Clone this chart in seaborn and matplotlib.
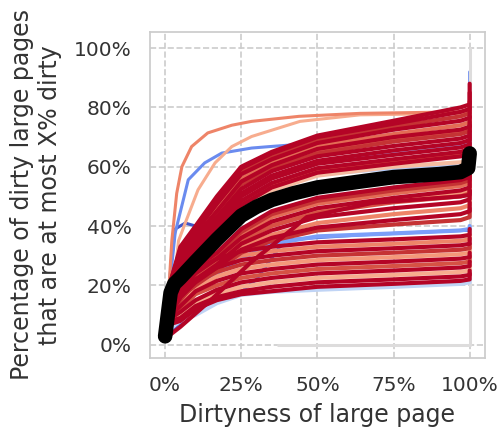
import matplotlib
matplotlib.use("Agg")
import matplotlib.pyplot as plt
from matplotlib.ticker import PercentFormatter
import pandas as pd
import seaborn as sns

# -----------------------------
# data (values in %)
# -----------------------------
# shared x knots for the bulk curves (last knot repeated: jump at 100%)
knots = [0, 1, 2, 5, 10, 17, 25, 35, 50, 75, 97, 100, 100]

# upper band, above the mean line
upper_curves = [
    [3, 10, 17, 23, 31, 38, 47, 53, 58, 61, 63.5, 64.5, 66],
    [3, 10, 17, 23.5, 31.5, 38.5, 48, 54, 59, 62, 64.2, 65.2, 67],
    [3, 11, 18, 24, 32, 39, 48.5, 54.5, 59.5, 62.5, 65, 66, 68],
    [3, 11, 18, 25, 33, 40, 50, 56, 61, 64, 66.5, 67.5, 70],
    [3, 11, 18, 25.5, 33.5, 40.5, 50.5, 56.5, 61.5, 64.8, 67.2, 68.2, 71],
    [3, 12, 19, 26, 34, 41.5, 51, 57, 62, 65.5, 68, 69, 72],
    [4, 12, 19, 27, 35, 43, 52.5, 58.5, 63.5, 67, 69.5, 70.5, 74],
    [4, 12, 20, 28, 36, 44, 54, 59.5, 64.5, 68.5, 71, 72, 75],
    [4, 13, 20, 28.5, 36, 44.5, 54.5, 60, 65.2, 69.2, 71.8, 72.8, 76],
    [4, 13, 20, 29, 36.5, 45, 55, 60.5, 66, 70, 72.5, 73.5, 77],
    [4, 13, 21, 30, 37, 46, 56, 61.5, 67, 71, 74, 75, 78],
    [4, 13, 21, 30.5, 38, 47.5, 57.5, 62.5, 68, 72.5, 75.5, 76.5, 80],
    [4, 14, 21, 31, 38.5, 48, 58.5, 63.5, 69, 73.5, 77, 78, 82],
    [4, 14, 22, 32, 39, 49, 59.5, 64.5, 70, 74.5, 78.5, 79.5, 85],
    [4, 14, 22, 33, 40, 50, 60, 65, 70.5, 75.5, 80, 81, 88],
]
upper_hues = [1.0, 0.9, 1.0, 1.0, 0.3, 1.0, 1.0, 0.95, 0.85, 1.0, 0.85, 1.0, 0.95, 1.0, 1.0]

# middle band, just below the mean line
middle_curves = [
    [3, 9, 15, 20, 26, 31, 39, 45, 49.5, 53, 55.5, 56.5, 60],
    [3, 9, 14, 19.5, 25.5, 30.5, 38, 44, 48.5, 52, 54.5, 55.5, 59],
    [3, 9, 14, 19, 25, 30, 37, 43, 47.5, 51, 53.5, 54.5, 58],
    [3, 8, 13, 18, 24, 29, 36, 41.5, 46, 49.5, 52, 53, 56],
    [3, 8, 13, 18, 23.5, 28.5, 35.5, 40.8, 45.2, 48.8, 51, 52, 55],
    [3, 8, 13, 18, 23, 28, 35, 40, 44.5, 48, 50, 51, 54],
    [3, 8, 12, 17, 22, 27, 34, 38.5, 43, 46, 48, 49, 52],
    [2, 7, 12, 17, 22, 27, 33, 37, 41, 44, 46, 47, 50],
    [2, 7, 11, 16, 21, 26, 32, 36, 39.5, 42, 44, 45, 48],
    [2, 7, 11, 16, 20, 25, 31, 35, 38.5, 40.5, 42, 43, 46],
]
middle_hues = [1.0, 0.95, 0.85, 1.0, 0.75, 0.9, 1.0, 0.8, 1.0, 0.95]

# lower band, early plateau
lower_curves = [
    [3, 8, 12, 18, 25, 29, 31.5, 33, 34.5, 35.5, 36.5, 37, 39],
    [3, 8, 12, 17, 24, 27.5, 30, 31.5, 33, 34, 35, 35.5, 37],
    [3, 7, 11, 16, 22, 26, 28.5, 30, 31.5, 32.5, 33.5, 34, 36],
    [3, 7, 11, 15, 21, 24.5, 27, 28.5, 30, 31, 32, 32.5, 34],
    [2, 7, 10, 14, 19, 23, 25.5, 27, 28.5, 29.5, 30.5, 31, 33],
    [2, 6, 10, 13, 18, 21.5, 24, 25.5, 27, 28, 29, 29.5, 31],
    [2, 6, 9, 12, 17, 20, 22.5, 24, 25.5, 26.5, 27.5, 28, 30],
    [2, 6, 9, 11, 15, 18.5, 21, 22.5, 24, 25, 26, 26.5, 28],
    [2, 5, 8, 10, 14, 17, 19.5, 21, 22.5, 23.5, 24.5, 25, 27],
    [2, 5, 8, 9, 13, 16, 18, 19.5, 21, 22, 23, 23.5, 25],
    [2, 5, 7, 8, 12, 15, 17, 18, 19.5, 20.5, 21.5, 22, 24],
]
lower_hues = [1.0, 0.8, 1.0, 0.95, 0.75, 1.0, 0.9, 1.0, 0.7, 1.0, 1.0]

# lines in the gap above the mean line / blue lines below it
gap_curves = [
    [3, 10, 16, 21, 28, 34, 46, 52, 57, 60, 61.5, 62, 63],
    [3, 10, 16, 22, 29, 36, 47, 53, 57.5, 59.5, 60.8, 61, 62],
    [2, 6, 10, 14, 19, 24, 29, 34, 36.5, 37.5, 38.5, 39, 40],
    [2, 5, 6, 8, 10, 14, 16.8, 17.8, 18.5, 19.5, 20.5, 21, 22],
]
gap_hues = [0.65, 0.35, 0.2, 0.4]

# single outliers with their own x points
orange_x = [0, 1, 2.2, 3.8, 5.5, 8.7, 14, 21.9, 28.4, 44, 64, 97, 100, 100]
orange_y = [3, 15, 35, 51, 60, 66.8, 71.4, 74, 75.3, 77, 78, 78.5, 79, 80]
salmon_x = [0, 2, 4.4, 6.6, 10.8, 16.4, 21.9, 28.4, 44.3, 64, 97, 100, 100]
salmon_y = [3, 12, 35, 41, 52.2, 61.3, 66.8, 70.2, 75.3, 77.5, 78, 78.5, 79]
blue_x = [0, 1.5, 3.3, 7.6, 13, 18.6, 28.4, 34.4, 50, 75, 97, 100, 100]
blue_y = [3, 20, 37.7, 55.6, 61.3, 64.6, 66.3, 66.8, 68, 70, 72, 73, 92]
dblue_x = [0, 1, 2, 3.3, 6.6, 10, 17, 25, 35, 50, 75, 97, 100, 100]
dblue_y = [2, 15, 28, 39, 41, 40, 48, 56, 62, 66, 69, 71, 72, 75]
bluelow_x = [0, 3, 7.6, 13, 18.6, 24, 30, 37.7, 40, 64, 97, 100, 100]
bluelow_y = [2, 5, 9, 12.5, 15, 17, 22, 33, 35.4, 37, 38.5, 38.5, 40]
redslow_x = [0, 5, 15, 28, 38.7, 46.5, 68, 97, 100, 100]
redslow_y = [2, 6, 15, 27.6, 36.4, 43, 47.8, 50, 50.5, 52]
gray_x = [37, 100, 100]
gray_y = [0, 0, 100]

# mean curve (black)
mean_x = [0, 1, 1.8, 3, 5, 10, 17, 25, 30, 35, 42, 50, 64, 75, 90, 97, 99.5, 100]
mean_y = [2.8, 11, 17.5, 20.5, 22.5, 28, 35.5, 43.5, 46.5, 48.8, 51, 53, 55, 56.5, 57.5, 58.2, 59.5, 64.5]

# -----------------------------
# long tables for seaborn
# -----------------------------
cid = 0


def add_curve(rows, xs, ys, h):
    global cid
    for x, y in zip(xs, ys):
        rows.append({"curve": cid, "x": x, "y": y, "hue": h})
    cid += 1


single_rows = []
add_curve(single_rows, gray_x, gray_y, 0.5)
add_curve(single_rows, orange_x, orange_y, 0.8)
add_curve(single_rows, salmon_x, salmon_y, 0.7)
add_curve(single_rows, blue_x, blue_y, 0.15)
add_curve(single_rows, dblue_x, dblue_y, 0.02)
add_curve(single_rows, bluelow_x, bluelow_y, 0.1)
df_single = pd.DataFrame(single_rows)

bulk_rows = []
for curves, hues in [(upper_curves, upper_hues), (middle_curves, middle_hues),
                     (lower_curves, lower_hues), (gap_curves, gap_hues)]:
    for ys, h in zip(curves, hues):
        add_curve(bulk_rows, knots, ys, h)
add_curve(bulk_rows, redslow_x, redslow_y, 1.0)
df_bulk = pd.DataFrame(bulk_rows)

# -----------------------------
# plot
# -----------------------------
sns.set_theme(style="whitegrid", rc={"grid.linestyle": "--", "grid.color": "#cccccc",
                                     "axes.edgecolor": "#cccccc", "grid.linewidth": 1.2})
plt.rcParams["font.family"] = ["DejaVu Sans"]

fig, ax = plt.subplots(figsize=(5.03, 4.36), dpi=100)
fig.subplots_adjust(left=0.298, right=0.964, bottom=0.179, top=0.927)

line_kw = dict(x="x", y="y", hue="hue", units="curve", estimator=None, sort=False,
               palette="coolwarm", hue_norm=(0, 1), legend=False, ax=ax)
sns.lineplot(data=df_single, lw=2.2, **line_kw)
sns.lineplot(data=df_bulk, lw=3.0, **line_kw)
sns.lineplot(x=mean_x, y=mean_y, color="black", lw=10.5, sort=False,
             estimator=None, solid_capstyle="round", solid_joinstyle="round", ax=ax)

ax.set_xlim(-5, 105)
ax.set_ylim(-4.5, 105.5)
ax.set_xticks([0, 25, 50, 75, 100])
ax.set_yticks([0, 20, 40, 60, 80, 100])
ax.xaxis.set_major_formatter(PercentFormatter(100, decimals=0))
ax.yaxis.set_major_formatter(PercentFormatter(100, decimals=0))
ax.tick_params(labelsize=14.5, pad=13, length=0, labelcolor="#333333")
ax.set_xlabel("Dirtyness of large page", fontsize=17, color="#333333", labelpad=6)
ax.set_ylabel("Percentage of dirty large pages\nthat are at most X% dirty",
              fontsize=17, color="#333333", labelpad=9)

plt.savefig("out.png", dpi=100)
plt.close()
